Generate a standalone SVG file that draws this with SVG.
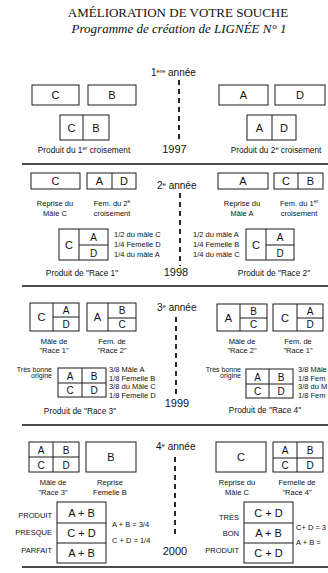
<svg xmlns="http://www.w3.org/2000/svg" width="328" height="573" viewBox="0 0 328 573">
<style>
text{font-family:"Liberation Sans",Arial,sans-serif;fill:#111}
.t{font-family:"Liberation Serif","Times New Roman",serif;font-size:13px;text-anchor:middle}
.b{fill:#fff;stroke:#1a1a1a;stroke-width:1}
.d{stroke:#1a1a1a;stroke-width:1;fill:none}
.L{font-size:11px;text-anchor:middle}
.M{font-size:10px;text-anchor:middle}
.c{font-size:7.5px;text-anchor:middle}
.p{font-size:8.3px;text-anchor:middle}
.n{font-size:7.5px}
.r{font-size:7.5px;text-anchor:end}
.o{font-size:7px;text-anchor:end}
.y{font-size:11px;text-anchor:middle}
.a{font-size:10px}
.sep{stroke:#111;stroke-width:1.5}
.dash{stroke:#111;stroke-width:1.8;stroke-dasharray:5 4}
</style>
<rect width="328" height="573" fill="#fff"/>
<g id="title">
<text class="t" x="178" y="17">AMÉLIORATION DE VOTRE SOUCHE</text>
<text class="t" x="179" y="33" font-style="italic">Programme de création de LIGNÉE N° 1</text>
</g>
<g id="connectors">
<line class="sep" x1="22" y1="164" x2="328" y2="164"/>
<line class="sep" x1="22" y1="286" x2="328" y2="286"/>
<line class="sep" x1="22" y1="425" x2="328" y2="425"/>
<line class="sep" x1="22" y1="567" x2="328" y2="567"/>
<line class="dash" x1="179" y1="80" x2="179" y2="141"/>
<line class="dash" x1="180" y1="193" x2="180" y2="266"/>
<line class="dash" x1="176" y1="317" x2="176" y2="398"/>
<line class="dash" x1="175" y1="457" x2="175" y2="536"/>
</g>
<g id="year1">
<text class="a" x="151" y="76">1<tspan font-size="6" dy="-3.5">ère</tspan><tspan dy="3.5"> année</tspan></text>
<text class="y" x="174.5" y="153">1997</text>
</g>
<g id="r1-C"><rect class="b" x="32" y="85" width="47" height="20"/><text class="L" x="55.5" y="99">C</text></g>
<g id="r1-B"><rect class="b" x="88" y="85" width="48" height="20"/><text class="L" x="112" y="99">B</text></g>
<g id="r1-CB"><rect class="b" x="60" y="115" width="49" height="25"/><line class="d" x1="83" y1="115" x2="83" y2="140"/><text class="L" x="71.5" y="131.5">C</text><text class="L" x="96" y="131.5">B</text>
<text class="p" x="84" y="153">Produit du 1<tspan font-size="5.5" dy="-3.5">er</tspan><tspan dy="3.5"> croisement</tspan></text></g>
<g id="r1-A"><rect class="b" x="219" y="85" width="49" height="20"/><text class="L" x="243.5" y="99">A</text></g>
<g id="r1-D"><rect class="b" x="275" y="85" width="50" height="20"/><text class="L" x="300" y="99">D</text></g>
<g id="r1-AD"><rect class="b" x="247" y="115" width="49" height="25"/><line class="d" x1="272" y1="115" x2="272" y2="140"/><text class="L" x="259.5" y="131.5">A</text><text class="L" x="284" y="131.5">D</text>
<text class="p" x="276" y="153">Produit du 2<tspan font-size="5.5" dy="-3.5">e</tspan><tspan dy="3.5"> croisement</tspan></text></g>

<g id="year2">
<text class="a" x="157" y="189">2<tspan font-size="6" dy="-3.5">e</tspan><tspan dy="3.5"> année</tspan></text>
<text class="y" x="176" y="276">1998</text>
</g>
<g id="r2-C"><rect class="b" x="31" y="173" width="49" height="16"/><text class="L" x="55.5" y="185">C</text>
<text class="c" x="55" y="206">Reprise du</text><text class="c" x="55" y="216">Mâle C</text></g>
<g id="r2-AD"><rect class="b" x="87" y="173" width="49" height="16"/><line class="d" x1="112" y1="173" x2="112" y2="189"/><text class="L" x="99.5" y="185">A</text><text class="L" x="124" y="185">D</text>
<text class="c" x="112" y="206">Fem. du 2<tspan font-size="5" dy="-3">e</tspan></text><text class="c" x="112" y="216">croisement</text></g>
<g id="r2-A"><rect class="b" x="218" y="173" width="50" height="16"/><text class="L" x="243" y="185">A</text>
<text class="c" x="242" y="206">Reprise du</text><text class="c" x="242" y="216">Mâle A</text></g>
<g id="r2-CB"><rect class="b" x="274" y="173" width="49" height="16"/><line class="d" x1="298" y1="173" x2="298" y2="189"/><text class="L" x="286" y="185">C</text><text class="L" x="310.5" y="185">B</text>
<text class="c" x="299" y="206">Fem. du 1<tspan font-size="5" dy="-3">er</tspan></text><text class="c" x="299" y="216">croisement</text></g>
<g id="r2-race1"><rect class="b" x="59" y="229" width="49" height="31"/><line class="d" x1="79" y1="229" x2="79" y2="260"/><line class="d" x1="79" y1="245" x2="108" y2="245"/>
<text class="L" x="69" y="248.5">C</text><text class="M" x="93.5" y="241">A</text><text class="M" x="93.5" y="256.5">D</text>
<text class="n" x="114" y="237">1/2 du mâle C</text><text class="n" x="114" y="247">1/4 Femelle D</text><text class="n" x="114" y="257">1/4 du mâle A</text>
<text class="p" x="82" y="276">Produit de "Race 1"</text></g>
<g id="r2-race2"><rect class="b" x="246" y="229" width="48" height="31"/><line class="d" x1="266" y1="229" x2="266" y2="260"/><line class="d" x1="266" y1="245" x2="294" y2="245"/>
<text class="L" x="256" y="248.5">C</text><text class="M" x="280" y="241">A</text><text class="M" x="280" y="256.5">D</text>
<text class="n" x="193" y="237">1/2 du mâle A</text><text class="n" x="193" y="247">1/4 Femelle B</text><text class="n" x="193" y="257">1/4 du mâle C</text>
<text class="p" x="274" y="276">Produit de "Race 2"</text></g>

<g id="year3">
<text class="a" x="157" y="311">3<tspan font-size="6" dy="-3.5">e</tspan><tspan dy="3.5"> année</tspan></text>
<text class="y" x="177" y="407">1999</text>
</g>
<g id="r3-male1"><rect class="b" x="30" y="303" width="49" height="28"/><line class="d" x1="53" y1="303" x2="53" y2="331"/><line class="d" x1="53" y1="317" x2="79" y2="317"/>
<text class="L" x="41.5" y="321">C</text><text class="M" x="66" y="313.5">A</text><text class="M" x="66" y="327.5">D</text>
<text class="c" x="54" y="344">Mâle de</text><text class="c" x="54" y="353">"Race 1"</text></g>
<g id="r3-fem2"><rect class="b" x="87" y="303" width="49" height="28"/><line class="d" x1="108" y1="303" x2="108" y2="331"/><line class="d" x1="108" y1="318" x2="136" y2="318"/>
<text class="L" x="97.5" y="321">A</text><text class="M" x="122" y="314">B</text><text class="M" x="122" y="328">C</text>
<text class="c" x="112" y="344">Fem. de</text><text class="c" x="112" y="353">"Race 2"</text></g>
<g id="r3-male2"><rect class="b" x="217" y="304" width="50" height="27"/><line class="d" x1="240" y1="304" x2="240" y2="331"/><line class="d" x1="240" y1="318" x2="267" y2="318"/>
<text class="L" x="228.5" y="321.5">A</text><text class="M" x="253.5" y="314.5">B</text><text class="M" x="253.5" y="328">C</text>
<text class="c" x="242" y="344">Mâle de</text><text class="c" x="242" y="353">"Race 2"</text></g>
<g id="r3-fem1"><rect class="b" x="273" y="304" width="50" height="27"/><line class="d" x1="297" y1="304" x2="297" y2="331"/><line class="d" x1="297" y1="318" x2="323" y2="318"/>
<text class="L" x="285" y="321.5">C</text><text class="M" x="310" y="314.5">A</text><text class="M" x="310" y="328">D</text>
<text class="c" x="298" y="344">Fem. de</text><text class="c" x="298" y="353">"Race 1"</text></g>
<g id="r3-race3"><text class="o" x="52" y="372">Très bonne</text><text class="o" x="52" y="378">origine</text>
<rect class="b" x="58" y="368" width="48" height="29"/><line class="d" x1="82" y1="368" x2="82" y2="397"/><line class="d" x1="58" y1="383" x2="106" y2="383"/>
<text class="M" x="70" y="379.5">A</text><text class="M" x="94" y="379.5">B</text><text class="M" x="70" y="394">C</text><text class="M" x="94" y="394">D</text>
<text class="n" x="109" y="372">3/8 Mâle A</text><text class="n" x="109" y="380.5">1/8 Femelle B</text><text class="n" x="109" y="389">3/8 du Mâle C</text><text class="n" x="109" y="397.5">1/8 Femelle D</text>
<text class="p" x="80" y="414">Produit de "Race 3"</text></g>
<g id="r3-race4"><text class="o" x="241" y="372">Très bonne</text><text class="o" x="241" y="378">origine</text>
<rect class="b" x="246" y="369" width="47" height="29"/><line class="d" x1="269" y1="369" x2="269" y2="398"/><line class="d" x1="246" y1="384" x2="293" y2="384"/>
<text class="M" x="257.5" y="380.5">A</text><text class="M" x="281" y="380.5">B</text><text class="M" x="257.5" y="395">C</text><text class="M" x="281" y="395">D</text>
<text class="n" x="298" y="372">3/8 Mâle</text><text class="n" x="298" y="380.5">1/8 Fem</text><text class="n" x="298" y="389">3/8 du M</text><text class="n" x="298" y="397.5">1/8 Fem</text>
<text class="p" x="265" y="413">Produit de "Race 4"</text></g>

<g id="year4">
<text class="a" x="156" y="450">4<tspan font-size="6" dy="-3.5">e</tspan><tspan dy="3.5"> année</tspan></text>
<text class="y" x="175" y="555">2000</text>
</g>
<g id="r4-male3"><rect class="b" x="29" y="442" width="50" height="30"/><line class="d" x1="53" y1="442" x2="53" y2="472"/><line class="d" x1="29" y1="457" x2="79" y2="457"/>
<text class="M" x="41" y="453.5">A</text><text class="M" x="66" y="453.5">B</text><text class="M" x="41" y="468.5">C</text><text class="M" x="66" y="468.5">D</text>
<text class="c" x="53" y="485">Mâle de</text><text class="c" x="53" y="495">"Race 3"</text></g>
<g id="r4-B"><rect class="b" x="86" y="442" width="50" height="30"/><text class="L" x="111" y="461">B</text>
<text class="c" x="110" y="485">Reprise</text><text class="c" x="110" y="495">Femelle B</text></g>
<g id="r4-C"><rect class="b" x="216" y="442" width="50" height="30"/><text class="L" x="241" y="461">C</text>
<text class="c" x="237" y="485">Reprise du</text><text class="c" x="237" y="495">Mâle C</text></g>
<g id="r4-fem4"><rect class="b" x="273" y="442" width="50" height="30"/><line class="d" x1="297" y1="442" x2="297" y2="472"/><line class="d" x1="273" y1="458" x2="323" y2="458"/>
<text class="M" x="285" y="454">A</text><text class="M" x="310" y="454">B</text><text class="M" x="285" y="469">C</text><text class="M" x="310" y="469">D</text>
<text class="c" x="297" y="485">Femelle de</text><text class="c" x="297" y="495">"Race 4"</text></g>
<g id="r4-left"><rect class="b" x="57" y="502" width="49" height="61"/><line class="d" x1="57" y1="523" x2="106" y2="523"/><line class="d" x1="57" y1="543" x2="106" y2="543"/>
<text class="L" x="81.5" y="516.5">A + B</text><text class="L" x="81.5" y="537">C + D</text><text class="L" x="81.5" y="557">A + B</text>
<text class="r" x="52" y="518">PRODUIT</text><text class="r" x="52" y="535">PRESQUE</text><text class="r" x="52" y="553">PARFAIT</text>
<text class="n" x="112" y="527">A + B = 3/4</text><text class="n" x="112" y="543">C + D = 1/4</text></g>
<g id="r4-right"><rect class="b" x="244" y="502" width="49" height="61"/><line class="d" x1="244" y1="523" x2="293" y2="523"/><line class="d" x1="244" y1="543" x2="293" y2="543"/>
<text class="L" x="268.5" y="516.5">C + D</text><text class="L" x="268.5" y="537">A + B</text><text class="L" x="268.5" y="557">C + D</text>
<text class="r" x="239" y="520">TRÈS</text><text class="r" x="239" y="536">BON</text><text class="r" x="239" y="553">PRODUIT</text>
<text class="n" x="296" y="530">C+ D = 3</text><text class="n" x="296" y="545">A + B =</text></g>
</svg>
